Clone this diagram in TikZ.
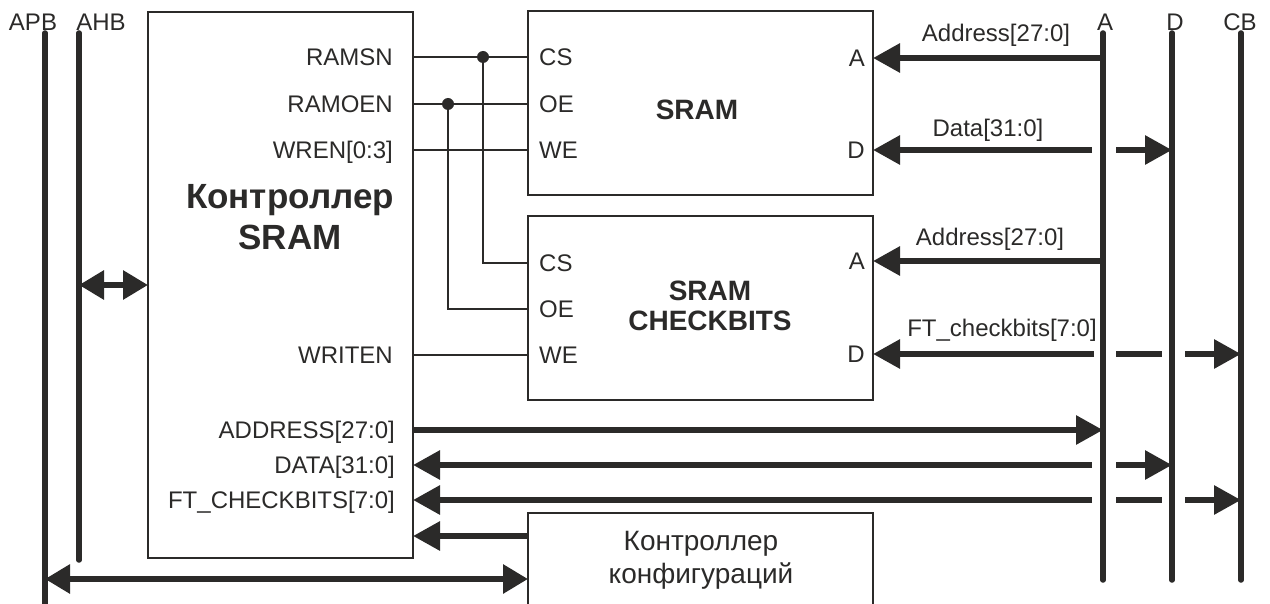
\documentclass[tikz,border=0pt]{standalone}
\usepackage{fontspec}
\setmainfont{Liberation Sans}
\usetikzlibrary{arrows.meta,positioning}
\definecolor{ink}{HTML}{2B2A29}
\tikzset{
  blockbox/.style={draw=ink,line width=1.8pt,anchor=north west,inner sep=0pt,outer sep=0pt},
  sig/.style={text=ink,font=\fontsize{24}{28}\selectfont,inner sep=0pt,text height=17pt,text depth=0pt},
  title/.style={text=ink,font=\bfseries\fontsize{28}{30}\selectfont,align=center,inner sep=0pt},
  wire/.style={draw=ink,line width=2pt},
  busline/.style={draw=ink,line width=5.5pt,line cap=round},
  busstub/.style={draw=ink,line width=6pt},
  busarrow/.style={draw=ink,line width=6pt,-{Triangle[length=27pt,width=28pt]}},
  busboth/.style={draw=ink,line width=6pt,{Triangle[length=25pt,width=28pt]}-{Triangle[length=25pt,width=28pt]}},
  dot/.style={circle,fill=ink,inner sep=0pt,minimum size=12pt}
}
\begin{document}
\begin{tikzpicture}[x=1pt,y=-1pt]
  \useasboundingbox (0,0) rectangle (1270,604);
  \foreach \name/\txt/\lx/\bx/\bend in {apb/APB/33/45/615,ahb/AHB/101/79/560,busa/A/1105/1103/580,busd/D/1175/1172/580,buscb/CB/1240/1241/580}{
    \node[sig] (\name) at (\lx,22) {\txt};
    \coordinate (\name-top) at (\bx,33);
    \coordinate (\name-bot) at (\bx,\bend);
    \draw[busline] (\name-top) -- (\name-bot);
  }
  \node[blockbox,minimum width=265,minimum height=546] (ctrl) at (148,12) {};
  \node[blockbox,minimum width=345,minimum height=184] (sram) at (528,11) {};
  \node[blockbox,minimum width=345,minimum height=184] (srcb) at (528,216) {};
  \node[blockbox,minimum width=345,minimum height=100] (cfg) at (528,513) {};
  \node[title,font=\bfseries\fontsize{35}{41}\selectfont] (ctrltitle) at (290,217) {Контроллер\\SRAM};
  \node[title] (sramtitle) at (697,110) {SRAM};
  \node[title] (srcbtitle) at (710,306) {SRAM\\CHECKBITS};
  \node[text=ink,font=\fontsize{28}{33}\selectfont,align=center,inner sep=0pt] (cfgtitle) at (701,560) {Контроллер\\конфигураций};
  \node[sig,anchor=east] (ramsn) at (393,57) {RAMSN};
  \node[sig,anchor=east] (ramoen) at (393,104) {RAMOEN};
  \node[sig,anchor=east] (wren) at (393,150) {WREN[0:3]};
  \node[sig,anchor=east] (writen) at (393,355) {WRITEN};
  \node[sig,anchor=east] (addr) at (395,430) {ADDRESS[27:0]};
  \node[sig,anchor=east] (data) at (395,465) {DATA[31:0]};
  \node[sig,anchor=east] (ftcb) at (395,500) {FT\_CHECKBITS[7:0]};
  \node[sig,anchor=west] (cs1) at (539,57) {CS};
  \node[sig,anchor=west] (oe1) at (539,104) {OE};
  \node[sig,anchor=west] (we1) at (539,150) {WE};
  \node[sig,anchor=east] (a1) at (865,58) {A};
  \node[sig,anchor=east] (d1) at (865,150) {D};
  \node[sig,anchor=west] (cs2) at (539,263) {CS};
  \node[sig,anchor=west] (oe2) at (539,309) {OE};
  \node[sig,anchor=west] (we2) at (539,355) {WE};
  \node[sig,anchor=east] (a2) at (865,261) {A};
  \node[sig,anchor=east] (d2) at (865,354) {D};
  \node[sig] (addrlbl1) at (996,33) {Address[27:0]};
  \node[sig] (datalbl) at (988,128) {Data[31:0]};
  \node[sig] (addrlbl2) at (990,237) {Address[27:0]};
  \node[sig] (ftlbl) at (1002,328) {FT\_checkbits[7:0]};
  \draw[wire] (ctrl.east |- ramsn) -- (sram.west |- cs1);
  \draw[wire] (ctrl.east |- ramoen) -- (sram.west |- oe1);
  \draw[wire] (ctrl.east |- wren) -- (sram.west |- we1);
  \draw[wire] (ctrl.east |- writen) -- (srcb.west |- we2);
  \node[dot] (j1) at (483,57) {};
  \node[dot] (j2) at (448,104) {};
  \draw[wire] (j1.center) |- (srcb.west |- cs2);
  \draw[wire] (j2.center) |- (srcb.west |- oe2);
  \draw[busarrow] (busa-top |- a1) -- (sram.east |- a1);
  \draw[busarrow,shorten <=11pt] (busa-top |- d1) -- (sram.east |- d1);
  \draw[busarrow,shorten <=13pt] (busa-top |- d1) -- (busd-top |- d1);
  \draw[busarrow] (busa-top |- a2) -- (srcb.east |- a2);
  \draw[busarrow,shorten <=9pt] (busa-top |- d2) -- (srcb.east |- d2);
  \draw[busstub,shorten <=13pt,shorten >=10pt] (busa-top |- d2) -- (busd-top |- d2);
  \draw[busarrow,shorten <=13pt] (busd-top |- d2) -- (buscb-top |- d2);
  \draw[busarrow] (ctrl.east |- addr) -- (busa-top |- addr);
  \draw[busarrow,shorten <=11pt] (busa-top |- data) -- (ctrl.east |- data);
  \draw[busarrow,shorten <=13pt] (busa-top |- data) -- (busd-top |- data);
  \draw[busarrow,shorten <=11pt] (busa-top |- ftcb) -- (ctrl.east |- ftcb);
  \draw[busstub,shorten <=13pt,shorten >=10pt] (busa-top |- ftcb) -- (busd-top |- ftcb);
  \draw[busarrow,shorten <=13pt] (busd-top |- ftcb) -- (buscb-top |- ftcb);
  \coordinate (ahbtap) at (0,285);
  \coordinate (cfgtap) at (0,536);
  \coordinate (apbtap) at (0,579);
  \draw[busboth] (ahb-top |- ahbtap) -- (ctrl.west |- ahbtap);
  \draw[busarrow] (cfg.west |- cfgtap) -- (ctrl.east |- cfgtap);
  \draw[busboth] (apb-top |- apbtap) -- (cfg.west |- apbtap);
\end{tikzpicture}
\end{document}
